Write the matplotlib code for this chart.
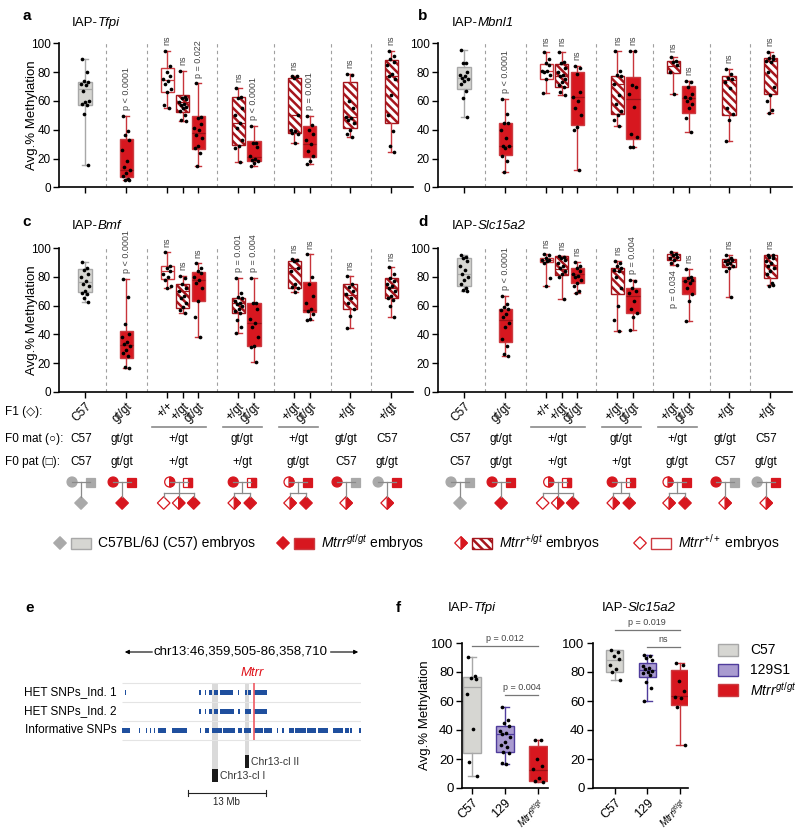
import matplotlib
matplotlib.use("Agg")
import matplotlib.pyplot as plt
from matplotlib.patches import Rectangle, Circle, Polygon, Wedge

plt.rcParams['font.family'] = ['Liberation Sans', 'DejaVu Sans']
plt.rcParams['mathtext.fontset'] = 'custom'
plt.rcParams['mathtext.rm'] = 'Liberation Sans'
plt.rcParams['mathtext.it'] = 'Liberation Sans:italic'
plt.rcParams['hatch.linewidth'] = 1.8

# ---------------- data: panels a-d ----------------
f1_labels = ['C57', 'gt/gt', '+/+', '+/gt', 'gt/gt', '+/gt', 'gt/gt', '+/gt', 'gt/gt', '+/gt', '+/gt']
kinds = ['c57', 'gt', 'wt', 'het', 'gt', 'het', 'gt', 'het', 'gt', 'het', 'het']
groups = [[0], [1], [2, 3, 4], [5, 6], [7, 8], [9], [10]]
f0_mat = ['C57', 'gt/gt', '+/gt', 'gt/gt', '+/gt', 'gt/gt', 'C57']
f0_pat = ['C57', 'gt/gt', '+/gt', '+/gt', 'gt/gt', 'C57', 'gt/gt']
parents = [('c57', 'c57'), ('gt', 'gt'), ('het', 'het'), ('gt', 'het'), ('het', 'gt'), ('gt', 'c57'), ('c57', 'gt')]
offspring = [['c57'], ['gt'], ['wt', 'het', 'gt'], ['het', 'gt'], ['het', 'gt'], ['het'], ['het']]

# IAP-Tfpi
a_lo = [15.5, 5, 55, 46.3, 15, 17.4, 15, 30.6, 16.2, 35.2, 24.3]
a_q1 = [57, 7.5, 66.4, 52, 26.6, 29.4, 18.5, 38, 21.3, 41, 44.4]
a_med = [68, 12, 74.5, 59.5, 38, 45, 21, 50, 30, 48.6, 77.3]
a_q3 = [73.4, 33.3, 82.6, 64, 49.8, 63, 32.2, 75.7, 42.6, 73, 88.4]
a_hi = [89, 49.5, 95, 80.8, 72.2, 69.2, 42.6, 77.5, 49.8, 78.7, 95]
a_pts = [[89, 80, 74, 73, 72, 71, 67, 60, 59, 58, 57, 51, 15.5],
         [49.5, 39, 36, 33, 26, 18, 14, 12, 10, 8, 6, 5, 5],
         [95, 84, 80, 77, 75, 74, 72, 68, 66, 57, 55],
         [80.8, 63, 62, 61, 59, 58, 57, 56, 55, 53, 50, 47, 46.3],
         [72.2, 49, 48, 44, 41, 40, 36, 34, 29, 27, 24, 15],
         [69.2, 63, 62, 55, 50, 45, 41, 33, 29, 27, 17.4],
         [42.6, 31, 31, 28, 22, 20, 19, 18, 17, 15],
         [77.5, 77, 76, 50, 40, 39, 38, 37, 30.6],
         [49.8, 43, 40, 37, 33, 30, 25, 22, 18, 16.2],
         [78.7, 78, 60, 55, 49, 48, 47, 45, 40, 37, 35.2],
         [95, 91, 89, 87, 85, 79, 77, 75, 64, 50, 39, 29, 24.3]]
a_ann = ['', 'p < 0.0001', 'ns', 'ns', 'p = 0.022', 'ns', 'p < 0.0001', 'ns', 'p = 0.001', 'ns', 'ns']

# IAP-Mbnl1
b_lo = [49, 10.9, 65.3, 64, 12, 42.6, 27.8, 64.6, 38.2, 31.9, 51.4]
b_q1 = [68, 22.5, 75, 70, 43.3, 51, 33.3, 79.2, 51.9, 50.2, 64.6]
b_med = [75.7, 29, 80.8, 77.3, 62.5, 72, 61, 84, 61.8, 74.5, 87.7]
b_q3 = [83.8, 44.4, 85.6, 85.6, 79.9, 77.3, 76.4, 88, 70.4, 77.3, 90]
b_hi = [95.4, 61.6, 94.2, 94, 84.3, 95, 95, 90.3, 74, 82.4, 94.2]
b_pts = [[95.4, 86, 86, 80, 78, 77, 76, 75, 74, 72, 67, 62, 49],
         [61.6, 51, 45, 45, 40, 34, 29, 29, 27, 22, 18, 10.9],
         [94.2, 89, 86, 85, 81, 81, 80, 78, 75, 65.3],
         [94, 87, 86, 83, 80, 78, 77, 75, 73, 71, 70, 66, 64],
         [84.3, 83, 79, 66, 63, 60, 55, 50, 42, 40, 12],
         [95, 81, 78, 77, 72, 64, 58, 53, 50, 47, 42.6],
         [95, 95, 71, 70, 65, 56, 37, 35, 28, 27.8],
         [90.3, 88, 87, 85, 80, 64.6],
         [74, 73, 70, 65, 63, 62, 60, 58, 55, 48, 38.2],
         [82.4, 79, 76, 75, 73, 69, 55, 51, 47, 31.9],
         [94.2, 91, 90, 89, 88, 87, 80, 70, 64, 60, 54, 51.4]]
b_ann = ['', 'p < 0.0001', 'ns', 'ns', 'ns', 'ns', 'ns', 'ns', 'ns', 'ns', 'ns']

# IAP-Bmf
c_lo = [62.8, 16.3, 72, 54.6, 38, 41, 20.9, 69.8, 50, 44.7, 52.3]
c_q1 = [69.3, 23.3, 78.6, 58.6, 63.5, 54.6, 32, 72.6, 55.3, 58, 65]
c_med = [76.7, 32.6, 84.2, 70, 77.9, 61.6, 47.7, 86, 56.7, 67.4, 72]
c_q3 = [85.6, 42.6, 88, 75, 83.7, 65.6, 61.6, 91.4, 76.3, 75, 79.5]
c_hi = [90.7, 78.6, 97.2, 80.7, 89.5, 79.5, 79.5, 92.6, 95.8, 81, 87.2]
c_pts = [[90.7, 86, 85, 82, 80, 77, 75, 74, 70, 69, 68, 65, 62.8],
         [78.6, 66, 47, 40, 38, 35, 33, 32, 29, 27, 25, 17, 16.3],
         [97.2, 88, 86, 84, 82, 80, 78, 74, 72],
         [80.7, 79, 75, 72, 70, 67, 65, 62, 59, 57, 54.6],
         [89.5, 86, 84, 83, 80, 78, 76, 72, 63, 52, 38],
         [79.5, 69, 66, 65, 63, 62, 61, 60, 58, 56, 55, 50, 45, 41],
         [79.5, 62, 62, 58, 51, 48, 45, 38, 32, 31, 20.9],
         [92.6, 92, 91, 86, 84, 75, 73, 72, 69.8],
         [95.8, 80, 75, 67, 62, 58, 56, 54, 51, 50],
         [81, 75, 73, 70, 68, 65, 62, 58, 53, 44.7],
         [87.2, 82, 79, 77, 75, 74, 72, 70, 67, 65, 64, 60, 52.3]]
c_ann = ['', 'p < 0.0001', 'ns', 'ns', 'ns', 'p = 0.001', 'p = 0.004', 'ns', 'ns', 'ns', 'ns']

# IAP-Slc15a2
d_lo = [70.2, 25.1, 73.7, 64.4, 69, 42.6, 43, 88.6, 49, 66.3, 74.4]
d_q1 = [73.7, 34.9, 90.2, 81.4, 75.6, 67.9, 55, 92, 68, 87.2, 79.5]
d_med = [81.9, 50, 91.9, 85.3, 81.9, 84.4, 67, 94, 77.5, 90.2, 88.6]
d_q3 = [93, 58, 93, 94.9, 86.5, 86.5, 72, 96.3, 79.8, 92.5, 95.3]
d_hi = [95.3, 67, 96, 94.9, 90.7, 91.2, 78, 97.2, 85.8, 95.3, 95.3]
d_pts = [[95.3, 94, 93, 91, 88, 85, 82, 80, 78, 75, 72, 71, 70.2],
         [67, 61, 59, 58, 57, 54, 52, 48, 45, 37, 32, 26, 25.1],
         [96, 95, 93, 92, 92, 91, 90, 79, 73.7],
         [94.9, 94, 93, 92, 90, 88, 86, 84, 82, 80, 64.4],
         [90.7, 88, 86, 84, 82, 81, 80, 78, 76, 74, 70, 69],
         [91.2, 90, 88, 86, 85, 84, 80, 72, 60, 50, 42.6],
         [78, 77, 72, 70, 69, 63, 58, 55, 52, 43],
         [97.2, 96, 95, 94, 93, 92, 90, 88.6],
         [85.8, 80, 79, 78, 77, 76, 72, 68, 63, 49],
         [95.3, 93, 92, 92, 91, 90, 89, 88, 86, 84, 66.3],
         [95.3, 95, 94, 93, 91, 90, 88, 86, 84, 82, 76, 74, 74.4]]
d_ann = ['', 'p < 0.0001', 'ns', 'ns', 'ns', 'ns', 'p = 0.004', 'p = 0.034', 'ns', 'ns', 'ns']
d_ann_below = [7]

# ---------------- data: panel e (Mb on chr13) ----------------
chrom_lo, chrom_hi = 46.36, 86.36
snp_rows = ['HET SNPs_Ind. 1', 'HET SNPs_Ind. 2', 'Informative SNPs']
het1 = [(46.8, 47.0), (59.3, 59.5), (60.2, 60.4), (61.0, 61.4), (61.7, 62.4), (62.7, 64.9),
        (65.8, 66.0), (67.0, 67.3), (67.5, 67.9), (68.5, 70.6)]
het2 = [(59.3, 59.5), (60.2, 60.4), (61.0, 61.4), (61.7, 62.4), (62.7, 65.1), (65.8, 66.1),
        (67.0, 67.9), (68.4, 70.7)]
informative = [(46.36, 47.7), (49.2, 49.4), (50.4, 50.6), (51.0, 51.2), (51.7, 51.9), (52.4, 53.2),
               (53.3, 53.8), (54.7, 57.3), (59.4, 59.6), (60.2, 60.9), (61.4, 63.1), (63.3, 65.3),
               (65.8, 66.5), (66.7, 68.0), (68.5, 70.0), (70.2, 71.4), (72.3, 72.5), (73.2, 73.4),
               (74.3, 75.1), (75.3, 77.2), (77.4, 78.9), (79.1, 80.9), (81.7, 83.4), (83.6, 84.3),
               (84.5, 84.8), (86.0, 86.36)]
clusters = [('Chr13-cl I', 61.5, 62.5), ('Chr13-cl II', 66.95, 67.65)]
mtrr_pos = 68.45

# ---------------- data: panel f ----------------
f_labels = ['C57', '129', '$\\mathit{Mtrr}^{\\mathit{gt/gt}}$']
f_kinds = ['c57', '129', 'gt']
tf_lo = [8.5, 16.8, 4.1]
tf_q1 = [24.1, 24.8, 5.1]
tf_med = [69.7, 37.5, 12.2]
tf_q3 = [76.3, 42.5, 29.2]
tf_hi = [90.3, 55.9, 33.3]
tf_pts = [[90.3, 77, 76, 75, 65, 41, 18, 8.5],
          [55.9, 47, 45, 43, 39, 38, 37, 35, 32, 30, 28, 25, 24, 17, 16.8],
          [33.3, 33, 20, 15, 13, 7, 5, 4.1]]
sl_lo = [74.7, 60.2, 29.9]
sl_q1 = [79.8, 76.6, 57.5]
sl_med = [88.5, 81.1, 63.7]
sl_q3 = [94.9, 86.2, 81.6]
sl_hi = [94.9, 92, 86.2]
sl_pts = [[94.9, 94, 91, 89, 85, 82, 80, 74.7],
          [92, 91, 90, 88, 84, 83, 82, 81, 80, 79, 78, 73, 69, 60.2],
          [86.2, 85, 74, 67, 63, 62, 56, 29.9]]

# ---------------- styles ----------------
RED = '#d7171f'
LINE = '#8a8a8a'
STY = {
    'c57': dict(face='#d6d6d2', edge='#a8a8a8', wh='#a8a8a8', med='#a8a8a8', hatch=None),
    'gt': dict(face=RED, edge='#cc3b41', wh='#c8343b', med='#9c1117', hatch=None),
    'wt': dict(face='white', edge='#cc3a40', wh='#cc3a40', med='#cc3a40', hatch=None),
    'het': dict(face='white', edge='#a5151c', wh='#c8343b', med='#a5151c', hatch='\\\\\\\\'),
    '129': dict(face='#a99bd0', edge='#4f3c9c', wh='#4f3c9c', med='#4f3c9c', hatch=None),
}
JIT = [-0.2, 0.18, -0.05, 0.25, -0.28, 0.08, -0.15, 0.28, 0.02, -0.24, 0.14, -0.1, 0.22, -0.18, 0.06]

W, H = 800, 833
fig = plt.figure(figsize=(W / 100, H / 100), dpi=100)


def px_axes(l, t, r, b):
    return fig.add_axes([l / W, 1 - b / H, (r - l) / W, (b - t) / H])


def draw_boxes(ax, xs, lo, q1, med, q3, hi, pts, kk, width):
    for i, x in enumerate(xs):
        s = STY[kk[i]]
        st = dict(whislo=lo[i], q1=q1[i], med=med[i], q3=q3[i], whishi=hi[i], fliers=[])
        bp = dict(facecolor=s['face'], edgecolor=s['edge'], linewidth=1.0)
        if s['hatch']:
            bp['hatch'] = s['hatch']
        ax.bxp([st], positions=[x], widths=width, patch_artist=True, showfliers=False,
               boxprops=bp, whiskerprops=dict(color=s['wh'], lw=1.0),
               capprops=dict(color=s['wh'], lw=1.0), medianprops=dict(color=s['med'], lw=0.9),
               capwidths=width * 0.5, manage_ticks=False)
        xj = [x + JIT[j % len(JIT)] * width for j in range(len(pts[i]))]
        ax.scatter(xj, pts[i], s=7, color='black', zorder=5, linewidths=0)


def style_axes(ax, fs):
    for sp in ['top', 'right']:
        ax.spines[sp].set_visible(False)
    ax.spines['left'].set_linewidth(1.2)
    ax.spines['bottom'].set_linewidth(1.2)
    ax.set_ylim(0, 100)
    ax.set_yticks([0, 20, 40, 60, 80, 100])
    ax.tick_params(axis='both', labelsize=fs, length=4, width=1.0, pad=2)


positions = [0, 2.65, 5.3, 6.3, 7.3, 9.9, 10.9, 13.5, 14.5, 17.1, 19.75]
seps = [1.35, 4.0, 8.5, 12.2, 15.9, 18.45]
BOXW = 0.85


def methyl_panel(ax, lo, q1, med, q3, hi, pts, ann, below=(), labels=False):
    style_axes(ax, 8.5)
    ax.set_xlim(-1.68, 21.16)
    for s in seps:
        ax.axvline(s, color='#a0a0a0', lw=0.8, ls=(0, (3, 3)), zorder=0)
    draw_boxes(ax, positions, lo, q1, med, q3, hi, pts, kinds, BOXW)
    ax.set_xticks(positions)
    if labels:
        ax.set_xticklabels(f1_labels, rotation=45, ha='right', rotation_mode='anchor', fontsize=8.5)
    else:
        ax.set_xticklabels([])
    for i, t in enumerate(ann):
        if not t:
            continue
        if i in below:
            ax.text(positions[i], lo[i] - 4, t, rotation=90, ha='center', va='top',
                    fontsize=6.5, color='#444444')
        else:
            ax.text(positions[i], hi[i] + 4, t, rotation=90, ha='center', va='bottom',
                    fontsize=6.5, color='#444444', clip_on=False)


ax_a = px_axes(59, 43.3, 413, 187.3)
ax_b = px_axes(438, 43.3, 792, 187.3)
ax_c = px_axes(59, 248.3, 413, 391.7)
ax_d = px_axes(438, 248.3, 792, 391.7)
methyl_panel(ax_a, a_lo, a_q1, a_med, a_q3, a_hi, a_pts, a_ann)
methyl_panel(ax_b, b_lo, b_q1, b_med, b_q3, b_hi, b_pts, b_ann)
methyl_panel(ax_c, c_lo, c_q1, c_med, c_q3, c_hi, c_pts, c_ann, labels=True)
methyl_panel(ax_d, d_lo, d_q1, d_med, d_q3, d_hi, d_pts, d_ann, below=d_ann_below, labels=True)
for ax in (ax_a, ax_c):
    ax.set_ylabel('Avg.% Methylation', fontsize=9.5)
    ax.yaxis.set_label_coords(-0.06, 0.5)

# ---------------- overlay (labels, table, pedigrees, legend) ----------------
ov = fig.add_axes([0, 0, 1, 1])
ov.set_xlim(0, W)
ov.set_ylim(H, 0)
ov.axis('off')
ov.patch.set_alpha(0)
renderer = fig.canvas.get_renderer()

for lab, x, y in [('a', 27, 16), ('b', 423, 16), ('c', 27, 222), ('d', 423, 222), ('e', 30, 608), ('f', 398, 608)]:
    ov.text(x, y, lab, fontsize=11, fontweight='bold', ha='center', va='center')


def gene_title(x, y, gene):
    t = ov.text(x, y, 'IAP-', fontsize=9.5, ha='left', va='center')
    bb = t.get_window_extent(renderer)
    ov.text(bb.x1, y, gene, fontsize=9.5, fontstyle='italic', ha='left', va='center')


for g, x, y in [('Tfpi', 72, 23), ('Mbnl1', 452, 23), ('Bmf', 72, 226), ('Slc15a2', 452, 226),
                ('Tfpi', 448, 608), ('Slc15a2', 602, 608)]:
    gene_title(x, y, g)

ov.text(5, 412, 'F1 (\u25c7):', fontsize=8.5, ha='left', va='center')
ov.text(5, 439, 'F0 mat (\u25cb):', fontsize=8.5, ha='left', va='center')
ov.text(5, 462, 'F0 pat (\u25a1):', fontsize=8.5, ha='left', va='center')


def xpx(ax, x):
    return ax.transData.transform((x, 0))[0]


def symbol(shape, kind, cx, cy, size=1.0):
    red, gray = RED, '#a9a9a9'
    r, s, h = 5 * size, 9 * size, 6.3 * size
    face = {'c57': gray, 'gt': red, 'wt': 'white', 'het': 'white'}[kind]
    edge = gray if kind == 'c57' else red
    if shape == 'circle':
        ov.add_patch(Circle((cx, cy), r, fc=face, ec=edge, lw=0.9))
        if kind == 'het':
            ov.add_patch(Wedge((cx, cy), r, -90, 90, fc=red, ec=red, lw=0.9))
    elif shape == 'square':
        ov.add_patch(Rectangle((cx - s / 2, cy - s / 2), s, s, fc=face, ec=edge, lw=0.9))
        if kind == 'het':
            ov.add_patch(Rectangle((cx, cy - s / 2), s / 2, s, fc=red, ec=red, lw=0.9))
    else:
        ov.add_patch(Polygon([(cx, cy - h), (cx + h, cy), (cx, cy + h), (cx - h, cy)],
                             closed=True, fc=face, ec=edge, lw=0.9))
        if kind == 'het':
            ov.add_patch(Polygon([(cx, cy - h), (cx + h, cy), (cx, cy + h)], closed=True,
                                 fc=red, ec=red, lw=0.9))


for ax in (ax_c, ax_d):
    for g, idx in enumerate(groups):
        cx = sum(xpx(ax, positions[i]) for i in idx) / len(idx) - 4
        ov.text(cx, 439, f0_mat[g], fontsize=8.5, ha='center', va='center')
        ov.text(cx, 462, f0_pat[g], fontsize=8.5, ha='center', va='center')
        if len(idx) > 1:
            x0 = xpx(ax, positions[idx[0]] - 1.0)
            x1 = xpx(ax, positions[idx[-1]] + 0.5)
            ov.plot([x0, x1], [427, 427], color=LINE, lw=1.2)
        mk, pk = parents[g]
        ov.plot([cx - 9, cx + 9], [482, 482], color=LINE, lw=0.9)
        kids = offspring[g]
        n = len(kids)
        if n == 1:
            kx = [cx]
            ov.plot([cx, cx], [482, 497], color=LINE, lw=0.9)
        else:
            step = 15 if n == 3 else 16
            kx = [cx + (k - (n - 1) / 2) * step for k in range(n)]
            ov.plot([cx, cx], [482, 493], color=LINE, lw=0.9)
            ov.plot([kx[0], kx[-1]], [493, 493], color=LINE, lw=0.9)
            for x in kx:
                ov.plot([x, x], [493, 497], color=LINE, lw=0.9)
        symbol('circle', mk, cx - 9, 482)
        symbol('square', pk, cx + 9, 482)
        for x, k in zip(kx, kids):
            symbol('diamond', k, x, 503)

# legend row
leg_items = [('c57', 60, 'C57BL/6J (C57) embryos'),
             ('gt', 283, '$\\mathit{Mtrr}^{\\mathit{gt/gt}}$ embryos'),
             ('het', 461, '$\\mathit{Mtrr}^{\\mathit{+/gt}}$ embryos'),
             ('wt', 640, '$\\mathit{Mtrr}^{\\mathit{+/+}}$ embryos')]
for k, x, t in leg_items:
    symbol('diamond', k, x, 543)
    s = STY[k]
    ov.add_patch(Rectangle((x + 11, 538), 20, 11, fc=s['face'], ec=s['edge'], lw=1.0,
                           hatch=s['hatch']))
    ov.text(x + 38, 543, t, fontsize=10, ha='left', va='center')

# ---------------- panel e ----------------
ax_e = px_axes(122, 640, 361, 805)
ax_e.set_xlim(chrom_lo, chrom_hi)
ax_e.set_ylim(805, 640)
ax_e.axis('off')
row_y = [692, 711, 730]
ax_e.hlines([683, 702, 721, 740], chrom_lo, chrom_hi, color='#e4e4e4', lw=0.8)
(n1, c1, e1), (n2, c2, e2) = clusters
ax_e.add_patch(Rectangle((c1, 683), e1 - c1, 99, fc='#dadada', ec='none', zorder=1))
ax_e.add_patch(Rectangle((c2, 683), e2 - c2, 85, fc='#dadada', ec='none', zorder=1))
ax_e.add_patch(Rectangle((c1, 769), e1 - c1, 13, fc='#1a1a1a', ec='none', zorder=3))
ax_e.add_patch(Rectangle((c2, 755), e2 - c2, 13, fc='#1a1a1a', ec='none', zorder=3))
ax_e.text(e1 + 0.3, 776, n1, fontsize=7.5, color='#333333', ha='left', va='center')
ax_e.text(e2 + 0.3, 762, n2, fontsize=7.5, color='#333333', ha='left', va='center')
for y, segs in zip(row_y, [het1, het2, informative]):
    ax_e.broken_barh([(s0, s1 - s0) for s0, s1 in segs], (y - 2.5, 5), facecolors='#1f4f9e', zorder=2)
ax_e.vlines(mtrr_pos, 683, 740, color='#ef5a63', lw=1.2, zorder=4)
ax_e.text(mtrr_pos - 0.3, 673, 'Mtrr', color='#e0141c', fontstyle='italic', fontsize=9.5,
          ha='center', va='center')
ax_e.text((chrom_lo + chrom_hi) / 2 - 0.1, 652, 'chr13:46,359,505-86,358,710', fontsize=9.5,
          ha='center', va='center')
ax_e.annotate('', xy=(chrom_lo, 652), xytext=(51.9, 652),
              arrowprops=dict(arrowstyle='-|>', lw=0.8, color='black', mutation_scale=6))
ax_e.annotate('', xy=(chrom_hi, 652), xytext=(80.8, 652),
              arrowprops=dict(arrowstyle='-|>', lw=0.8, color='black', mutation_scale=6))
ax_e.plot([57.4, 70.4], [793, 793], color='#222222', lw=0.8)
ax_e.plot([57.4, 57.4], [790, 796], color='#222222', lw=0.8)
ax_e.plot([70.4, 70.4], [790, 796], color='#222222', lw=0.8)
ax_e.text(63.9, 802, '13 Mb', fontsize=7, ha='center', va='center', color='#222222')
for t, y in zip(snp_rows, row_y):
    ov.text(117, y, t, fontsize=8.5, ha='right', va='center')

# ---------------- panel f ----------------
ax_f1 = px_axes(462, 643, 548, 788)
ax_f2 = px_axes(593, 643, 688, 788)
fx = [0, 1, 2]
for ax, lo, q1, md, q3, hi, pts, xl in [
        (ax_f1, tf_lo, tf_q1, tf_med, tf_q3, tf_hi, tf_pts, (-0.3, 2.3)),
        (ax_f2, sl_lo, sl_q1, sl_med, sl_q3, sl_hi, sl_pts, (-0.67, 2.25))]:
    style_axes(ax, 9.5)
    ax.set_xlim(*xl)
    draw_boxes(ax, fx, lo, q1, md, q3, hi, pts, f_kinds, 0.52)
    ax.set_xticks(fx)
    ax.set_xticklabels(f_labels, rotation=45, ha='right', rotation_mode='anchor', fontsize=9)
    ax.get_xticklabels()[2].set_fontsize(7)
ax_f1.set_ylabel('Avg.% Methylation', fontsize=9.5)
ax_f1.yaxis.set_label_coords(-0.36, 0.5)


def bracket(ax, x0, x1, y, t, ty):
    ax.plot([x0, x1], [y, y], color='#777777', lw=0.9, clip_on=False)
    ax.text((x0 + x1) / 2, ty, t, fontsize=6.5, color='#444444', ha='center', va='bottom',
            clip_on=False)


bracket(ax_f1, 0, 2, 98, 'p = 0.012', 100)
bracket(ax_f1, 1, 2, 64, 'p = 0.004', 66)
bracket(ax_f2, 0, 2, 109, 'p = 0.019', 111)
bracket(ax_f2, 1, 2, 97, 'ns', 99)

for k, y, t in [('c57', 650, 'C57'), ('129', 670, '129S1'),
                ('gt', 690, '$\\mathit{Mtrr}^{\\mathit{gt/gt}}$')]:
    s = STY[k]
    ov.add_patch(Rectangle((718, y - 6), 20, 12, fc=s['face'], ec=s['edge'], lw=1.0))
    ov.text(750, y, t, fontsize=10, ha='left', va='center')

fig.savefig('out.png', dpi=100)
